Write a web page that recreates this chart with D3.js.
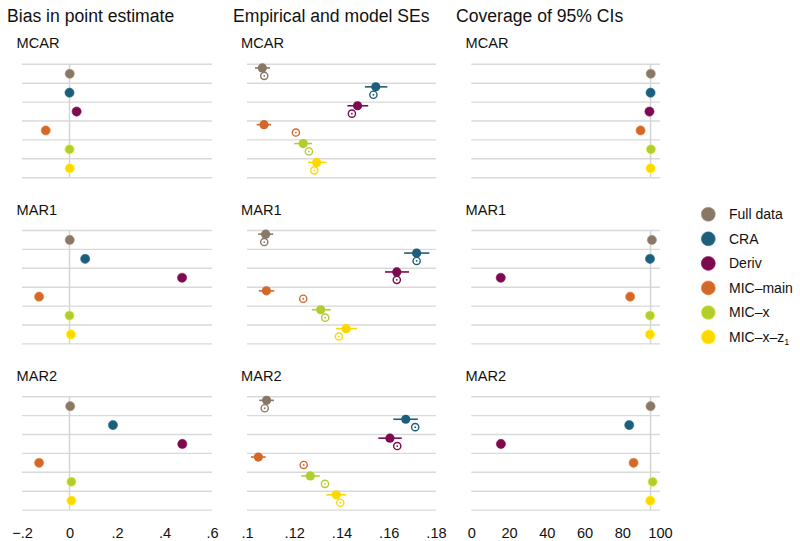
<!DOCTYPE html>
<html>
<head>
<meta charset="utf-8">
<script src="https://cdn.jsdelivr.net/npm/d3@7"></script>
<style>
  body { margin: 0; background: #fff; }
  text { font-family: "Liberation Sans", Arial, Helvetica, sans-serif; fill: #111; }
</style>
</head>
<body>
<svg id="chart" width="800" height="541"></svg>
<script>
var width = 800, height = 541;

// data
var methods = ["Full data", "CRA", "Deriv", "MIC–main", "MIC–x", "MIC–x–z1"];
var colors = ["#8a7866", "#1d5f7b", "#7c0a4e", "#d2692a", "#b2cd2e", "#fdd800"];
var scenarios = ["MCAR", "MAR1", "MAR2"];
var panelTitles = ["Bias in point estimate", "Empirical and model SEs", "Coverage of 95% CIs"];

var biasTicks = [-0.2, 0, 0.2, 0.4, 0.6];
var seTicks = [0.1, 0.12, 0.14, 0.16, 0.18];
var covTicks = [0, 20, 40, 60, 80, 100];

// bias per scenario, in methods order
var bias = {
  MCAR: [0.001, 0.0, 0.03, -0.1, 0.0, 0.001],
  MAR1: [0.001, 0.066, 0.474, -0.128, 0.0, 0.006],
  MAR2: [0.003, 0.183, 0.475, -0.128, 0.008, 0.008]
};
// empirical SE with its MC interval, and model SE
var empSE = {
  MCAR: [0.1065, 0.1545, 0.1468, 0.1072, 0.1238, 0.1295],
  MAR1: [0.1079, 0.1718, 0.1634, 0.1082, 0.1312, 0.142],
  MAR2: [0.1083, 0.1672, 0.1605, 0.1048, 0.1268, 0.1378]
};
var empLo = {
  MCAR: [0.1034, 0.1499, 0.1425, 0.1041, 0.120, 0.1258],
  MAR1: [0.1047, 0.1665, 0.1584, 0.105, 0.1274, 0.1377],
  MAR2: [0.1052, 0.1619, 0.1556, 0.1017, 0.123, 0.1336]
};
var empHi = {
  MCAR: [0.1097, 0.1594, 0.1513, 0.1102, 0.1275, 0.1337],
  MAR1: [0.1111, 0.1772, 0.1686, 0.1116, 0.1354, 0.1466],
  MAR2: [0.1114, 0.1723, 0.1655, 0.1079, 0.1308, 0.142]
};
var modSE = {
  MCAR: [0.1073, 0.1535, 0.1444, 0.1207, 0.1262, 0.1285],
  MAR1: [0.1073, 0.1718, 0.1634, 0.1238, 0.1331, 0.1389],
  MAR2: [0.1075, 0.1712, 0.1636, 0.124, 0.133, 0.1395]
};
var coverage = {
  MCAR: [95.1, 95.0, 94.4, 89.7, 95.2, 95.0],
  MAR1: [95.7, 94.7, 15.6, 84.2, 94.7, 94.7],
  MAR2: [95.0, 83.7, 15.7, 86.0, 96.1, 94.8]
};

var svg = d3.select("#chart");

var xBias = d3.scaleLinear().domain([-0.2, 0.6]).range([22, 212]);
var xSE = d3.scaleLinear().domain([0.1, 0.18]).range([247, 436]);
var xCov = d3.scaleLinear().domain([0, 100]).range([471.3, 660]);
var xScales = [xBias, xSE, xCov];

var rowY = d3.scaleBand().domain(scenarios).range([64.3, 64.3 + 3 * 166.2]);
var bandH = 113.4;
var color = d3.scaleOrdinal().domain(methods).range(colors);

var titleX = [7, 233, 456];
panelTitles.forEach(function (t, i) {
  svg.append("text").attr("x", titleX[i]).attr("y", 21.5)
    .style("font-size", "17.6px").text(t);
});

var subX = [16.5, 241, 465.5];

scenarios.forEach(function (sc) {
  var top = rowY(sc);
  var yM = d3.scaleBand().domain(methods).range([top, top + bandH]);
  var bw = yM.bandwidth();

  xScales.forEach(function (xs, p) {
    var g = svg.append("g");
    g.append("text").attr("x", subX[p]).attr("y", top - 16)
      .style("font-size", "14.6px").text(sc);

    // gridlines at band boundaries
    var bounds = methods.map(function (m) { return yM(m); }).concat([top + bandH]);
    g.selectAll("line.grid").data(bounds).enter().append("line")
      .attr("x1", xs.range()[0]).attr("x2", xs.range()[1])
      .attr("y1", function (d) { return d; }).attr("y2", function (d) { return d; })
      .attr("stroke", "#d9d9d9").attr("stroke-width", 1.4);

    // reference lines
    if (p === 0 || p === 2) {
      var ref = p === 0 ? 0 : 95;
      g.append("line").attr("x1", xs(ref)).attr("x2", xs(ref))
        .attr("y1", top).attr("y2", top + bandH)
        .attr("stroke", "#d4d4d4").attr("stroke-width", 1.5);
    }

    if (p === 0 || p === 2) {
      var vals = p === 0 ? bias[sc] : coverage[sc];
      g.selectAll("circle.pt").data(methods).enter().append("circle")
        .attr("cx", function (m, i) { return xs(vals[i]); })
        .attr("cy", function (m) { return yM(m) + bw / 2; })
        .attr("r", 4.6)
        .attr("fill", function (m) { return color(m); })
        .attr("stroke", function (m) { return d3.color(color(m)).brighter(0.6); })
        .attr("stroke-width", 0.6);
    } else {
      methods.forEach(function (m, i) {
        var yc = yM(m) + bw / 2;
        var c = color(m);
        g.append("line")
          .attr("x1", xs(empLo[sc][i])).attr("x2", xs(empHi[sc][i]))
          .attr("y1", yc - 5.8).attr("y2", yc - 5.8)
          .attr("stroke", c).attr("stroke-width", 1.6);
        g.append("circle").attr("cx", xs(empSE[sc][i])).attr("cy", yc - 5.8)
          .attr("r", 4.6).attr("fill", c);
        g.append("circle").attr("cx", xs(modSE[sc][i])).attr("cy", yc + 2.1)
          .attr("r", 3.6).attr("fill", "#fff").attr("stroke", c).attr("stroke-width", 1.4);
        g.append("circle").attr("cx", xs(modSE[sc][i])).attr("cy", yc + 2.1)
          .attr("r", 0.9).attr("fill", c);
      });
    }
  });
});

// x axes under the bottom row
var fmtDec = function (d) {
  if (Math.abs(d) < 1e-9) return "0";
  var s = String(+Math.abs(d).toFixed(2)).replace(/^0\./, ".");
  return (d < 0 ? "\u2212" : "") + s;
};
var axisY = rowY("MAR2") + bandH + 4;
[[xBias, biasTicks, fmtDec], [xSE, seTicks, fmtDec], [xCov, covTicks, d3.format("d")]].forEach(function (a) {
  var ax = svg.append("g").attr("transform", "translate(0," + axisY + ")")
    .call(d3.axisBottom(a[0]).tickValues(a[1]).tickFormat(a[2]).tickSize(0).tickPadding(14));
  ax.select(".domain").remove();
  ax.selectAll("text").style("font-size", "14.6px")
    .style("font-family", "'Liberation Sans', Arial, sans-serif").attr("fill", "#111");
});

// legend
var legY = d3.scalePoint().domain(methods).range([214.3, 337]);
var leg = svg.append("g");
methods.forEach(function (m) {
  leg.append("circle").attr("cx", 708.3).attr("cy", legY(m)).attr("r", 7)
    .attr("fill", color(m))
    .attr("stroke", d3.color(color(m)).brighter(0.6)).attr("stroke-width", 0.6);
  var t = leg.append("text").attr("x", 729).attr("y", legY(m) + 5)
    .style("font-size", "14px");
  if (m === "MIC–x–z1") {
    t.append("tspan").text("MIC–x–z");
    t.append("tspan").attr("dy", 3).style("font-size", "9px").text("1");
  } else {
    t.text(m);
  }
});
</script>
</body>
</html>
